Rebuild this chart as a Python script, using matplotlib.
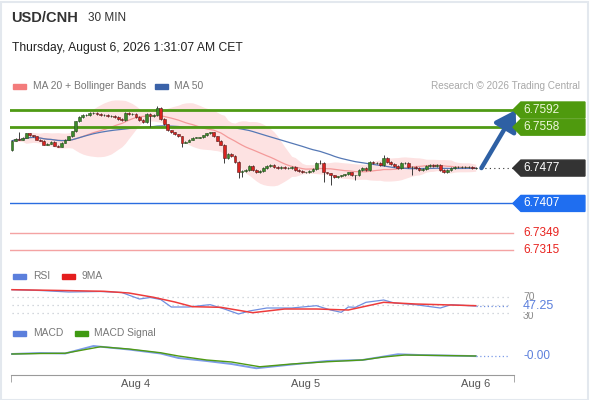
import numpy as np
import pandas as pd
import matplotlib
matplotlib.use("Agg")
import matplotlib.pyplot as plt
from matplotlib.patches import Rectangle, Polygon

plt.rcParams['font.family'] = ['Liberation Sans', 'DejaVu Sans']

# 30 min closes, USD/CNH
closes = [6.7531, 6.7535, 6.7533, 6.7537, 6.7546, 6.7542, 6.7540, 6.7533, 6.7531, 6.7523,
          6.7525, 6.7529, 6.7521, 6.7519, 6.7527, 6.7533, 6.7540, 6.7550, 6.7570, 6.7578,
          6.7582, 6.7582, 6.7586, 6.7586, 6.7584, 6.7582, 6.7582, 6.7580, 6.7580, 6.7578,
          6.7574, 6.7572, 6.7586, 6.7584, 6.7584, 6.7578, 6.7572, 6.7568, 6.7584, 6.7580,
          6.7582, 6.7596, 6.7574, 6.7564, 6.7552, 6.7548, 6.7544, 6.7540, 6.7527, 6.7529,
          6.7533, 6.7537, 6.7537, 6.7538, 6.7542, 6.7546, 6.7548, 6.7540, 6.7531, 6.7523,
          6.7497, 6.7505, 6.7501, 6.7489, 6.7469, 6.7471, 6.7473, 6.7481, 6.7473, 6.7469,
          6.7471, 6.7477, 6.7481, 6.7483, 6.7479, 6.7477, 6.7479, 6.7477, 6.7477, 6.7479,
          6.7473, 6.7471, 6.7469, 6.7469, 6.7471, 6.7475, 6.7487, 6.7487, 6.7469, 6.7467,
          6.7463, 6.7459, 6.7461, 6.7463, 6.7465, 6.7469, 6.7463, 6.7463, 6.7473, 6.7477,
          6.7473, 6.7489, 6.7487, 6.7487, 6.7483, 6.7497, 6.7489, 6.7485, 6.7481, 6.7477,
          6.7487, 6.7487, 6.7479, 6.7479, 6.7477, 6.7473, 6.7475, 6.7481, 6.7483, 6.7481,
          6.7483, 6.7473, 6.7469, 6.7473, 6.7477, 6.7479, 6.7479, 6.7479, 6.7479, 6.7479,
          6.7477, 6.7477]
first_open = 6.7513
wick_hi = {2: 6.7548, 41: 6.7600, 87: 6.7493, 105: 6.7503}
wick_lo = {39: 6.7558, 48: 6.7519, 60: 6.7487, 64: 6.7457, 65: 6.7459, 88: 6.7449,
           90: 6.7443, 97: 6.7453, 113: 6.7463}

resistances = [6.7592, 6.7558]
pivot = 6.7407
supports = [6.7349, 6.7315]
last_price = 6.7477

day_ticks = [35, 83, 131]
day_labels = ['Aug 4', 'Aug 5', 'Aug 6']

# RSI panel (candle index, value)
rsi_x = [0, 8, 16, 25, 31, 36, 39, 42, 45, 50, 55, 56, 60, 64, 67, 72, 79, 86, 90, 93,
         95, 97, 100, 105, 108, 114, 121, 124, 131]
rsi_v = [89.8, 87.7, 83.8, 85.1, 82.5, 65.6, 69.5, 64.3, 44.8, 44.8, 50.0, 50.8, 39.6, 26.6,
         34.4, 42.2, 42.2, 48.2, 37.0, 31.0, 44.8, 44.0, 57.0, 63.0, 55.2, 50.8, 42.2, 50.8, 47.25]
rsi_ma_x = [0, 14, 26, 33, 40, 46, 51, 59, 68, 77, 86, 95, 105, 114, 124, 131]
rsi_ma_v = [89.8, 87.7, 85.6, 81.2, 70.0, 57.8, 45.6, 44.0, 30.0, 39.6, 39.6, 37.0, 57.0,
            52.6, 50.0, 48.2]

# MACD panel
macd_x = [0, 8, 15, 23, 33, 42, 47, 55, 62, 69, 79, 89, 99, 109, 115, 131]
macd_v = [0.00016, 0.00024, 0.0002, 0.0008, 0.00052, 0.0002, -0.00016, -0.0004, -0.00064,
          -0.00098, -0.00068, -0.0004, -0.00032, 0.00014, 0.00008, -0.00001]
sig_x = [0, 8, 15, 25, 33, 42, 47, 55, 62, 70, 79, 89, 99, 105, 111, 121, 131]
sig_v = [0.00016, 0.0002, 0.00022, 0.00074, 0.00056, 0.00026, 0.0, -0.00032, -0.00048,
         -0.00086, -0.00064, -0.00046, -0.00032, -0.00008, 0.00008, 0.00004, 0.0]

W, H = 590, 400
fig = plt.figure(figsize=(W / 100, H / 100), dpi=100)
fig.patch.set_facecolor('white')


def px_rect(top, bottom):
    return [10 / W, 1 - bottom / H, 576 / W, (bottom - top) / H]


XL = (-2 / 3.54, 574 / 3.54)
LAST_X = 141.5  # where right labels start

# ---- price panel
ax = fig.add_axes(px_rect(100, 262))
ax.set_xlim(*XL)
ax.set_ylim(6.7592 - 152 / 5050, 6.7592 + 10 / 5050)
ax.axis('off')

c = np.array(closes)
o = np.concatenate([[first_open], c[:-1]])
idx = np.arange(len(c))
hi = np.maximum(o, c) + 0.00012
lo = np.minimum(o, c) - 0.00012
for k, v in wick_hi.items():
    hi[k] = v
for k, v in wick_lo.items():
    lo[k] = v

s = pd.Series(c)
ma20 = s.rolling(20, min_periods=1).mean()
sd20 = s.rolling(20, min_periods=1).std(ddof=0)
ma50 = s.rolling(50, min_periods=1).mean()
ax.fill_between(idx, ma20 - 2 * sd20, ma20 + 2 * sd20, color='#fde2e2', lw=0, zorder=1)
ax.plot(idx, ma20, color='#f49a9a', lw=0.9, zorder=2)
ax.plot(idx, ma50, color='#5578b5', lw=0.9, zorder=2)

for r in resistances:
    ax.plot([XL[0], LAST_X], [r, r], color='#4f9a14', lw=2, zorder=3)
ax.plot([XL[0], LAST_X], [pivot, pivot], color='#2a6de0', lw=1, zorder=3)
for sp in supports:
    ax.plot([XL[0], LAST_X], [sp, sp], color='#f4a3a3', lw=1, zorder=3)
ax.plot([idx[-1], LAST_X], [last_price, last_price], color='#333333', lw=0.8,
        ls=(0, (1, 3)), zorder=3)

up = c >= o
ax.vlines(idx, lo, hi, color='#3c3c3c', lw=0.7, zorder=4)
body_h = np.maximum(np.abs(c - o), 0.00006)
ax.bar(idx[up], body_h[up], bottom=np.minimum(o, c)[up], width=0.78,
       color='#3b8a2a', edgecolor='#2b4d22', lw=0.4, zorder=5)
ax.bar(idx[~up], body_h[~up], bottom=np.minimum(o, c)[~up], width=0.78,
       color='#d8231f', edgecolor='#5a2020', lw=0.4, zorder=5)

ax.annotate('', xy=(142.3, 6.7592), xytext=(132.6, 6.7477),
            arrowprops=dict(arrowstyle='-|>,head_width=0.5,head_length=0.8',
                            lw=3.2, color='#2e60a4', mutation_scale=15, shrinkA=0, shrinkB=0),
            zorder=6)

# right side tags
dp = 8 / 5050
x0, x1, x2 = LAST_X, LAST_X + 8 / 3.54, XL[1] - 0.3
tags = [(resistances[0], '#4f9a0e', '#eef7dc'), (resistances[1], '#4f9a0e', '#eef7dc'),
        (last_price, '#333333', 'white'), (pivot, '#1f6ef0', 'white')]
for val, bg, fg in tags:
    ax.add_patch(Polygon([(x0, val), (x1, val + dp), (x2, val + dp), (x2, val - dp),
                          (x1, val - dp)], closed=True, color=bg, zorder=7, clip_on=False))
    ax.text(x1 + 0.6, val, f'{val:.4f}', color=fg, fontsize=8.5, va='center', ha='left',
            zorder=8)
for sp in supports:
    ax.text(x1 + 0.6, sp, f'{sp:.4f}', color='#e8231f', fontsize=8.5, va='center', ha='left')

# ---- RSI panel
ar = fig.add_axes(px_rect(285, 322))
ar.set_xlim(*XL)
ar.set_ylim(50 - 17 * 2.6, 50 + 20 * 2.6)
ar.axis('off')
for lvl in [70, 50, 30]:
    ar.plot([0, LAST_X - 1], [lvl, lvl], color='#c5cbd3', lw=0.9, ls=(0, (1, 3)))
ar.plot(rsi_x, rsi_v, color='#6f8fe0', lw=0.9)
ar.plot(rsi_ma_x, rsi_ma_v, color='#ee3b3b', lw=1.1)
ar.plot([rsi_x[-1], LAST_X - 1], [rsi_v[-1], rsi_v[-1]], color='#6f8fe0', lw=0.9, ls=(0, (1, 2)))
ar.text(x1 + 0.6, 72, '70', color='#8a8a8a', fontsize=7.5, va='center')
ar.text(x1 + 0.6, 20.5, '30', color='#8a8a8a', fontsize=7.5, va='center')
ar.text(x1 + 0.6, rsi_v[-1], f'{rsi_v[-1]:.2f}', color='#5b7fdc', fontsize=9, va='center',
        bbox=dict(facecolor='white', edgecolor='none', pad=0.1))

# ---- MACD panel
am = fig.add_axes(px_rect(338, 372))
am.set_xlim(*XL)
am.set_ylim((356 - 372) * 0.00008, (356 - 338) * 0.00008)
for side in ['top', 'right', 'left']:
    am.spines[side].set_visible(False)
am.spines['bottom'].set_position(('outward', 2))
am.spines['bottom'].set_bounds(-0.3, LAST_X + 0.3)
am.spines['bottom'].set_color('#9a9a9a')
am.set_yticks([])
am.set_xticks(day_ticks)
am.set_xticklabels(day_labels, color='#555555', fontsize=8)
am.tick_params(axis='x', which='major', length=0, pad=3)
am.set_xticks([-0.3, LAST_X + 0.3], minor=True)
am.tick_params(axis='x', which='minor', length=5, color='#9a9a9a', direction='out')
am.plot(macd_x, macd_v, color='#7d9ce8', lw=1.4)
am.plot(sig_x, sig_v, color='#4f9a14', lw=1.0)
am.plot([macd_x[-1], LAST_X - 1], [macd_v[-1], macd_v[-1]], color='#7d9ce8', lw=0.9,
        ls=(0, (1, 2)))
am.text(x1 + 0.6, macd_v[-1], f'{macd_v[-1]:.2f}', color='#5b7fdc', fontsize=8.5, va='center')

# ---- header text and legends
def ftxt(x, y, s, **kw):
    fig.text(x / W, 1 - y / H, s, va='center', ha=kw.pop('ha', 'left'), **kw)


def swatch(x, y, color):
    fig.add_artist(Rectangle((x / W, 1 - (y + 2.5) / H), 13 / W, 5 / H,
                             transform=fig.transFigure, color=color))


ftxt(11, 18, 'USD/CNH', fontsize=10.5, fontweight='bold', color='#333333')
ftxt(88, 18, '30 MIN', fontsize=8.5, color='#333333')
ftxt(12, 48, 'Thursday, August 6, 2026 1:31:07 AM CET', fontsize=8.7, color='#222222')

swatch(13, 86, '#f37c7c')
ftxt(33, 86, 'MA 20 + Bollinger Bands', fontsize=7.4, color='#777777')
swatch(155, 86, '#3a62a8')
ftxt(174, 86, 'MA 50', fontsize=7.4, color='#777777')
ftxt(580, 86, 'Research \u00a9 2026 Trading Central', fontsize=7.2, color='#a8a8a8', ha='right')

swatch(13, 276, '#5b7fdc')
ftxt(33, 276, 'RSI', fontsize=7.4, color='#777777')
swatch(62, 276, '#e41e1e')
ftxt(82, 276, '9MA', fontsize=7.4, color='#777777')

swatch(13, 333, '#5b7fdc')
ftxt(33, 333, 'MACD', fontsize=7.4, color='#777777')
swatch(75, 333, '#3f9a12')
ftxt(94, 333, 'MACD Signal', fontsize=7.4, color='#777777')

# light frame around the card
fig.add_artist(Rectangle((0.5 / W, 0.5 / H), (W - 2.5) / W, (H - 2) / H,
                         transform=fig.transFigure, fill=False, edgecolor='#e3e8ee', lw=1.5))

fig.savefig('out.png', dpi=100)
